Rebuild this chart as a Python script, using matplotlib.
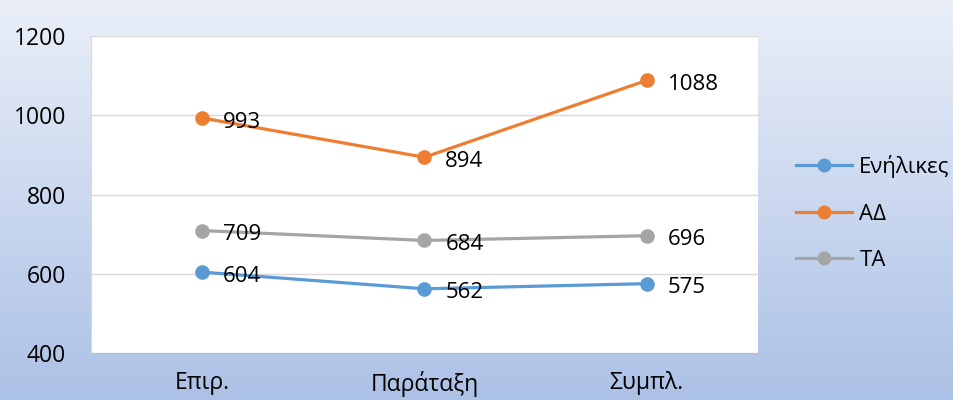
import numpy as np
import matplotlib
matplotlib.use("Agg")
import matplotlib.pyplot as plt

plt.rcParams['font.family'] = ['Open Sans', 'DejaVu Sans']

# data
categories = ['Επιρ.', 'Παράταξη', 'Συμπλ.']
series_names = ['Ενήλικες', 'ΑΔ', 'ΤΑ']
adults = [604, 562, 575]
ad = [993, 894, 1088]
ta = [709, 684, 696]
colors = ['#5B9BD5', '#ED7D31', '#A5A5A5']

fig = plt.figure(figsize=(9.54, 4.0), dpi=100)

# background gradient
bg = fig.add_axes([0, 0, 1, 1], zorder=0)
top = np.array([234, 239, 248]) / 255.0
bot = np.array([172, 193, 230]) / 255.0
t = np.linspace(0, 1, 256)[:, None]
grad = top + (bot - top) * t
bg.imshow(grad[:, None, :], aspect='auto', extent=[0, 1, 0, 1])
bg.axis('off')

ax = fig.add_axes([0.0954, 0.1175, 0.6991, 0.7925], zorder=1)
ax.set_facecolor('white')

x = np.arange(len(categories))
for vals, name, c in zip([adults, ad, ta], series_names, colors):
    ax.plot(x, vals, color=c, lw=2.3, marker='o', ms=9.5, label=name, zorder=3)
    for xi, v in zip(x, vals):
        ax.annotate(str(v), (xi, v), xytext=(15, -3), textcoords='offset points',
                    ha='left', va='center', fontsize=16, color='black', zorder=4)

ax.set_xlim(-0.5, 2.5)
ax.set_ylim(400, 1200)
ax.set_yticks([400, 600, 800, 1000, 1200])
ax.set_xticks(x)
ax.set_xticklabels(categories)
ax.grid(axis='y', color='#D9D9D9', lw=1)
ax.set_axisbelow(True)
for s in ['top', 'right']:
    ax.spines[s].set_visible(False)
ax.spines['left'].set_color('#D9D9D9')
ax.spines['bottom'].set_color('#BFBFBF')
ax.tick_params(axis='both', length=0, labelsize=16.5)
ax.tick_params(axis='y', pad=18)
ax.tick_params(axis='x', pad=13)

ax.legend(loc='center left', bbox_to_anchor=(796 / 954, 1 - 213 / 400),
          bbox_transform=fig.transFigure, borderaxespad=0, borderpad=0,
          frameon=False, fontsize=16, handlelength=2.5, handletextpad=0.35,
          labelspacing=1.15, markerscale=0.95)

fig.savefig('out.png', dpi=100)
